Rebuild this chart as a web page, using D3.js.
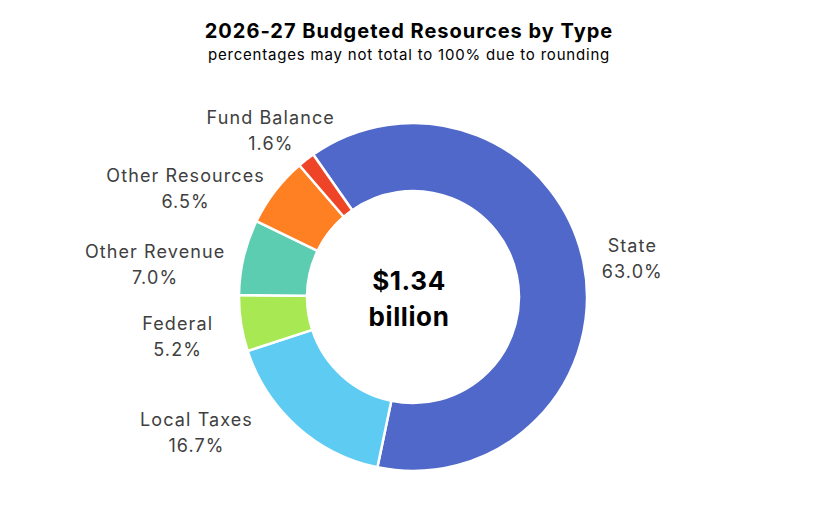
<!DOCTYPE html>
<html>
<head>
<meta charset="utf-8">
<script src="https://cdn.jsdelivr.net/npm/d3@7"></script>
<style>
  body { margin: 0; background: #fff; }
  svg { display: block; font-family: Inter, "Noto Sans", sans-serif; }
</style>
</head>
<body>
<div id="chart"></div>
<script>
// data
const categories = ["State", "Local Taxes", "Federal", "Other Revenue", "Other Resources", "Fund Balance"];
const percents = [63.0, 16.7, 5.2, 7.0, 6.5, 1.6];
const colors = ["#4F68C9", "#5ECBF3", "#A8E852", "#5DCDB2", "#FF8022", "#EE4428"];
// label shifts from the default arc position (Excel pushes labels around)
const labelNudge = [[-6, 7], [-63, -36], [-8, 4], [-34, 20], [-45, 31], [-1, 15]];

const width = 825, height = 525;
const cx = 413, cy = 297;
const outerR = 174, innerR = 106, labelR = 230;

const svg = d3.select("#chart").append("svg")
  .attr("width", width)
  .attr("height", height);

svg.append("text")
  .attr("x", 409).attr("y", 38)
  .attr("text-anchor", "middle")
  .attr("font-size", 20).attr("font-weight", 700)
  .attr("letter-spacing", 1)
  .attr("fill", "#000")
  .text("2026-27 Budgeted Resources by Type");

svg.append("text")
  .attr("x", 409).attr("y", 60)
  .attr("text-anchor", "middle")
  .attr("font-size", 15)
  .attr("letter-spacing", 0.8)
  .attr("fill", "#000")
  .text("percentages may not total to 100% due to rounding");

const rad = deg => deg * Math.PI / 180;
const pie = d3.pie()
  .sort(null)
  .value(d => d.value)
  .startAngle(rad(-35))
  .endAngle(rad(325));

const data = categories.map((c, i) => ({ name: c, value: percents[i], color: colors[i], nudge: labelNudge[i] }));
const arcs = pie(data);

const arc = d3.arc().innerRadius(innerR).outerRadius(outerR);
const labelArc = d3.arc().innerRadius(labelR).outerRadius(labelR);

const g = svg.append("g").attr("transform", `translate(${cx},${cy})`);

g.selectAll("path")
  .data(arcs)
  .enter()
  .append("path")
  .attr("d", arc)
  .attr("fill", d => d.data.color)
  .attr("stroke", "#fff")
  .attr("stroke-width", 2.5)
  .attr("stroke-linejoin", "round");

const labels = g.selectAll("text.lbl")
  .data(arcs)
  .enter()
  .append("text")
  .attr("class", "lbl")
  .attr("text-anchor", "middle")
  .attr("font-size", 18)
  .attr("letter-spacing", 1.1)
  .attr("fill", "#404040")
  .attr("transform", d => {
    const [x, y] = labelArc.centroid(d);
    return `translate(${x + d.data.nudge[0]},${y - 6 + d.data.nudge[1]})`;
  });

labels.append("tspan")
  .attr("x", 0).attr("y", 0)
  .text(d => d.data.name);
labels.append("tspan")
  .attr("x", 0).attr("y", 26)
  .text(d => d3.format(".1f")(d.data.value) + "%");

// centre total
const center = g.append("text")
  .attr("text-anchor", "middle")
  .attr("font-size", 26).attr("font-weight", 700)
  .attr("letter-spacing", 0.6)
  .attr("fill", "#000");
center.append("tspan").attr("x", -4).attr("y", -7).text("$1.34");
center.append("tspan").attr("x", -4).attr("y", 29).text("billion");
</script>
</body>
</html>
